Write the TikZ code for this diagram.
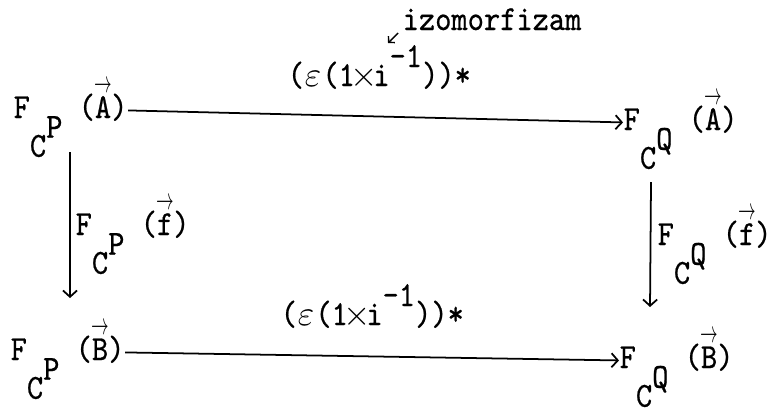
\documentclass[tikz,border=0pt]{standalone}
\usepackage{fontspec}
\usepackage{amsmath}
\usetikzlibrary{arrows.meta,calc}
\newfontfamily\tw[FakeStretch=0.88,FakeBold=0.6]{Latin Modern Mono}

% typewriter style: half-line shifts for the lowered C and its index
\newcommand{\tvec}[1]{\makebox[0pt][l]{\raisebox{7.2pt}{\resizebox{0.5em}{3.2pt}{$\rightarrow$}}}#1}
\newcommand{\Fcq}[2]{F\raisebox{-11pt}{C}\raisebox{-5.6pt}{#1}\ (\tvec{#2})}
\newcommand{\epsmap}{(\makebox[0.525em]{$\varepsilon$}(1\makebox[0.525em]{$\times$}i\raisebox{5.4pt}{-1}))*}

\begin{document}
\begin{tikzpicture}[x=0.01cm,y=-0.01cm,
  every node/.style={font=\fontsize{10}{12}\selectfont\tw,inner sep=0pt},
  arr/.style={-{Straight Barb[length=1.8pt,width=4pt]},line width=0.5pt}]
\useasboundingbox (0,0) rectangle (768,412);
% ==================== CORNERS ====================
\node[anchor=base west] (PA) at (13,118) {\Fcq{P}{A}};
\node[anchor=base west] (QA) at (623,130) {\Fcq{Q}{A}};
\node[anchor=base west] (PB) at (10,360) {\Fcq{P}{B}};
\node[anchor=base west] (QB) at (619,368) {\Fcq{Q}{B}};
% ==================== LABELS ====================
\node[anchor=base west] (top) at (287,86) {\epsmap};
\node[anchor=base west] (bot) at (280,325) {\epsmap};
\node[anchor=base west] (lf) at (75,235) {\Fcq{P}{f}};
\node[anchor=base west] (rf) at (657,245) {\Fcq{Q}{f}};
\node[anchor=base west] (izo) at (402,30) {izomorfizam};
% ==================== ARROWS ====================
\draw[arr] (PA.mid east) -- (QA.mid west);
\draw[arr] (PB.mid east) -- (QB.mid west);
\draw[arr] ($(PA.base west)+(57,34)$) -- ($(PB.base west)+(60,-62)$);
\draw[arr] ($(QA.base west)+(28,52)$) -- ($(QB.base west)+(31,-61)$);
% izomorfizam pointer
\draw[-{Straight Barb[length=1.2pt,width=2.6pt]},line width=0.4pt]
  ($(izo.base west)+(-4,3)$) -- ($(izo.base west)+(-14,13)$);
\end{tikzpicture}
\end{document}
